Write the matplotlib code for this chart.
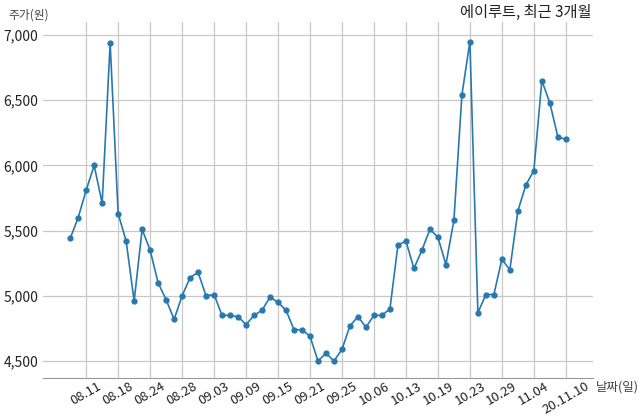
import matplotlib
matplotlib.use("Agg")
import matplotlib.pyplot as plt
from matplotlib.ticker import FuncFormatter

plt.rcParams['font.family'] = ['Noto Sans CJK KR', 'DejaVu Sans']

prices = [5440, 5600, 5810, 6000, 5710, 6940, 5630, 5420, 4960, 5510,
          5350, 5100, 4970, 4820, 5000, 5140, 5180, 5000, 5010, 4850,
          4850, 4840, 4780, 4850, 4890, 4990, 4950, 4890, 4740, 4740,
          4690, 4500, 4560, 4500, 4590, 4770, 4840, 4760, 4850, 4850,
          4900, 5390, 5420, 5210, 5350, 5510, 5450, 5240, 5580, 6540,
          6950, 4870, 5010, 5010, 5280, 5200, 5650, 5850, 5960, 6650,
          6480, 6220, 6200]
tick_labels = ['08.11', '08.18', '08.24', '08.28', '09.03', '09.09', '09.15', '09.21',
               '09.25', '10.06', '10.13', '10.19', '10.23', '10.29', '11.04', '20.11.10']
tick_pos = list(range(2, len(prices), 4))
y_ticks = [4500, 5000, 5500, 6000, 6500, 7000]

fig = plt.figure(figsize=(6.4, 4.19), dpi=100)
ax = fig.add_axes([43 / 640, 1 - 378 / 419, 550 / 640, 356 / 419])

ax.plot(range(len(prices)), prices, color='#2878b0', linewidth=1.2,
        marker='o', markersize=3.5)

ax.set_xlim(-3.4, 65.4)
ax.set_ylim(4370, 7100)
ax.set_xticks(tick_pos)
ax.set_xticklabels(tick_labels, rotation=30, ha='center')
ax.set_yticks(y_ticks)
ax.yaxis.set_major_formatter(FuncFormatter(lambda v, p: f'{int(v):,}'))
ax.tick_params(length=0, labelsize=10, colors='#222222')
ax.tick_params(axis='x', pad=1, labelsize=9.5)
ax.grid(True, color='#c8c8c8', linewidth=0.9)
for s in ['top', 'right', 'left']:
    ax.spines[s].set_visible(False)
ax.spines['bottom'].set_color('#999999')

fig.text(592 / 640, 1 - 12 / 419, '에이루트, 최근 3개월', ha='right', va='center',
         fontsize=11, color='#222222')
fig.text(8 / 640, 1 - 15 / 419, '주가(원)', ha='left', va='center', fontsize=8.5,
         color='#444444')
fig.text(596 / 640, 1 - 387 / 419, '날짜(일)', ha='left', va='center', fontsize=9,
         color='#444444')

fig.savefig('out.png', dpi=100)
